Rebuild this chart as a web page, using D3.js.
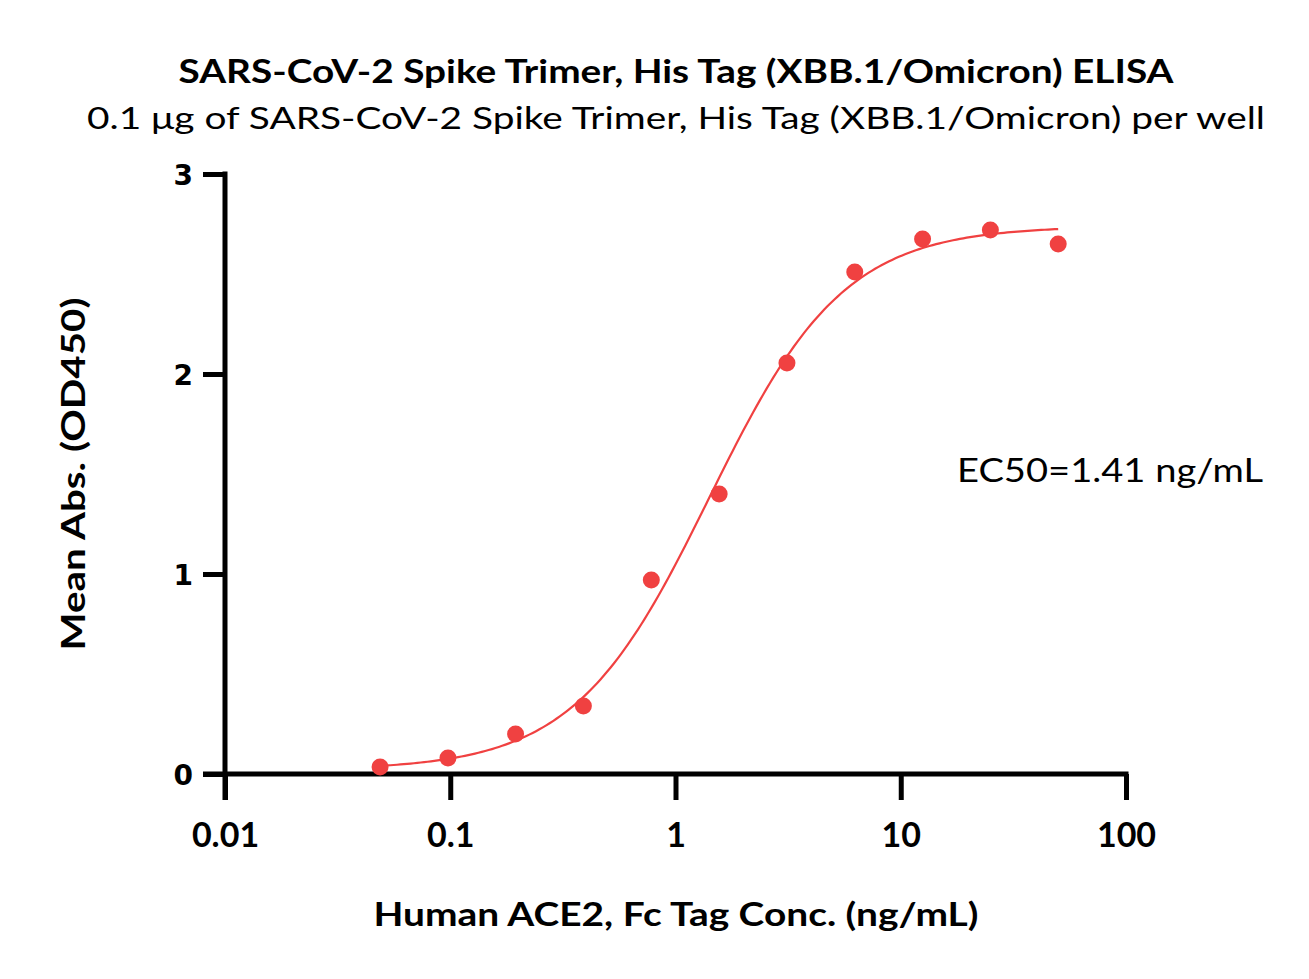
<!DOCTYPE html>
<meta charset="utf-8">
<style>
body { margin: 0; background: #fff; }
.title { font-family: Lato, "Open Sans", sans-serif; font-weight: 700; }
.sub { font-family: Lato, "Open Sans", sans-serif; }
.yaxis text { font-family: "DejaVu Sans", sans-serif; font-weight: 700; font-size: 28px; }
.xaxis text { font-family: Lato, sans-serif; font-weight: 700; font-size: 34px; }
</style>
<body>
<div id="chart"></div>
<script src="https://d3js.org/d3.v7.min.js"></script>
<script>
// measured points
var conc = [0.0488, 0.0977, 0.195, 0.39, 0.781, 1.5625, 3.125, 6.25, 12.5, 25, 50];
var od   = [0.035, 0.08, 0.20, 0.34, 0.97, 1.40, 2.055, 2.51, 2.675, 2.72, 2.65];
var xTicks = [0.01, 0.1, 1, 10, 100];
var xTickLabels = ["0.01", "0.1", "1", "10", "100"];
var yTicks = [0, 1, 2, 3];
// 4PL fit
var fitBottom = 0.02, fitTop = 2.74, fitEC50 = 1.41, fitHill = 1.45;

var W = 1309, H = 979;
var red = "#f04141";

var svg = d3.select("#chart").append("svg")
  .attr("width", W).attr("height", H);

var x = d3.scaleLog().domain([0.01, 100]).range([225, 1126]);
var y = d3.scaleLinear().domain([0, 3]).range([774, 174]);

// y axis
var yAxis = svg.append("g").attr("class", "yaxis")
  .attr("transform", "translate(225,0)")
  .call(d3.axisLeft(y).tickValues(yTicks).tickFormat(d3.format("d")).tickSize(22).tickPadding(10));
yAxis.select(".domain").remove();
yAxis.selectAll(".tick line").attr("stroke", "#000").attr("stroke-width", 5);
yAxis.selectAll(".tick text").attr("fill", "#000").attr("dy", "0.36em");
svg.append("line").attr("x1", 225).attr("x2", 225)
  .attr("y1", y(3) - 2.5).attr("y2", 800)
  .attr("stroke", "#000").attr("stroke-width", 5);

// x axis
var xAxis = svg.append("g").attr("class", "xaxis")
  .attr("transform", "translate(0," + y(0) + ")")
  .call(d3.axisBottom(x).tickValues(xTicks)
    .tickFormat(function(d, i) { return xTickLabels[i]; })
    .tickSize(26).tickPadding(23));
xAxis.select(".domain").remove();
xAxis.selectAll(".tick line").attr("stroke", "#000").attr("stroke-width", 5);
xAxis.selectAll(".tick text").attr("fill", "#000");
svg.append("line").attr("x1", 203).attr("x2", x(100) + 2.5)
  .attr("y1", y(0)).attr("y2", y(0))
  .attr("stroke", "#000").attr("stroke-width", 5);

// fitted curve
function fit(c) {
  return fitBottom + (fitTop - fitBottom) / (1 + Math.pow(fitEC50 / c, fitHill));
}
var curveX = d3.range(0, 201).map(function(i) {
  return Math.pow(10, Math.log10(conc[0]) + i / 200 * (Math.log10(conc[conc.length - 1]) - Math.log10(conc[0])));
});
svg.append("path")
  .datum(curveX)
  .attr("fill", "none")
  .attr("stroke", red)
  .attr("stroke-width", 2.2)
  .attr("d", d3.line()
    .x(function(d) { return x(d); })
    .y(function(d) { return y(fit(d)); }));

svg.append("g").selectAll("circle")
  .data(conc)
  .enter().append("circle")
  .attr("cx", function(d) { return x(d); })
  .attr("cy", function(d, i) { return y(od[i]); })
  .attr("r", 8.5)
  .attr("fill", red);

// titles
svg.append("text").attr("class", "title")
  .attr("x", 676).attr("y", 83).attr("text-anchor", "middle")
  .attr("font-size", 32)
  .attr("textLength", 995).attr("lengthAdjust", "spacingAndGlyphs")
  .text("SARS-CoV-2 Spike Trimer, His Tag (XBB.1/Omicron) ELISA");
svg.append("text").attr("class", "sub")
  .attr("x", 676).attr("y", 129).attr("text-anchor", "middle")
  .attr("font-size", 31)
  .attr("textLength", 1178).attr("lengthAdjust", "spacingAndGlyphs")
  .text("0.1 \u03bcg of SARS-CoV-2 Spike Trimer, His Tag (XBB.1/Omicron) per well");

svg.append("text").attr("class", "title")
  .attr("x", 676).attr("y", 926).attr("text-anchor", "middle")
  .attr("font-size", 32)
  .attr("textLength", 605).attr("lengthAdjust", "spacingAndGlyphs")
  .text("Human ACE2, Fc Tag Conc. (ng/mL)");

svg.append("text").attr("class", "title")
  .attr("transform", "translate(85,474) rotate(-90)")
  .attr("text-anchor", "middle")
  .attr("font-size", 32)
  .attr("textLength", 353).attr("lengthAdjust", "spacingAndGlyphs")
  .text("Mean Abs. (OD450)");

svg.append("text").attr("class", "sub")
  .attr("x", 957).attr("y", 482)
  .attr("font-size", 32)
  .attr("textLength", 306).attr("lengthAdjust", "spacingAndGlyphs")
  .text("EC50=1.41 ng/mL");
</script>
</body>
